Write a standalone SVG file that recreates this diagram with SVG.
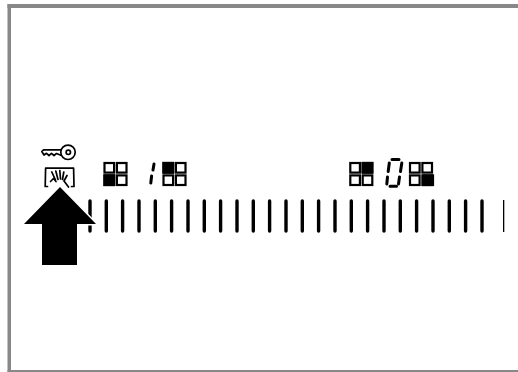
<svg xmlns="http://www.w3.org/2000/svg" width="518" height="372" viewBox="0 0 518 372">
<style>
.frame{fill:#888}
.bar{stroke:#000;stroke-width:3.4;stroke-linecap:round;fill:none}
.cell{fill:#fff;stroke:#000;stroke-width:2.2}
.on{fill:#000;stroke:#000;stroke-width:2.2}
.seg{fill:none;stroke:#000;stroke-width:3;stroke-linecap:round}
.ln{fill:none;stroke:#000;stroke-width:1.7;stroke-linecap:round;stroke-linejoin:round}
</style>
<defs>
<g id="grid">
<rect class="cell" x="1" y="1" width="9.600" height="9.600"/><rect class="cell" x="13.400" y="1" width="9.600" height="9.600"/>
<rect class="cell" x="1" y="13.400" width="9.600" height="9.600"/><rect class="cell" x="13.400" y="13.400" width="9.600" height="9.600"/>
</g>
</defs>
<rect width="518" height="372" fill="#fff"/>
<g id="frame">
<rect class="frame" x="7.500" y="4" width="510.500" height="4"/>
<rect class="frame" x="7.500" y="4" width="3.500" height="368"/>
<rect class="frame" x="7.500" y="370" width="510.500" height="2"/>
</g>
<g id="scale">
<path class="bar" d="M90 201V231M106.300 201V231M122.600 201V231M139 201V231M155.300 201V231M171.600 201V231M188 201V231M204.300 201V231M220.600 201V231M237 201V231M253.300 201V231M269.600 201V231M286 201V231M302.300 201V231M318.600 201V231M335 201V231M351.300 201V231M367.600 201V231M384 201V231M400.300 201V231M416.600 201V231M433 201V231M449.300 201V231M465.600 201V231M482 201V231"/>
<rect x="503" y="200" width="1.300" height="32"/>
</g>
<g id="key">
<circle class="ln" cx="68" cy="152.300" r="7.200" stroke-width="2"/>
<circle class="ln" cx="68.300" cy="152.300" r="2.200"/>
<path class="ln" d="M61.200 149.800H43.500L41.800 151.500L44 155L46.500 153.300L49 155.500L51.500 153.300L54 155.500L56.500 153.500L61.500 155.500"/>
</g>
<g id="hand">
<path class="ln" d="M47.500 186.500H45.200L45.600 168.200H73.600L74 186.500H71.500"/>
<path class="ln" d="M50.500 181.500L53.500 178.500L56 181.500M55.500 180L51.800 172M58 179.500L55.800 171M60.500 179L59.800 170.500M62.500 179.500L63.800 172M64 181L67 175.500M64 181L68.500 187"/>
</g>
<g id="grid1">
<use href="#grid" x="103.500" y="162"/>
<rect class="on" x="104.500" y="175.400" width="9.600" height="9.600"/>
</g>
<g id="digit1">
<path class="seg" d="M154 164L153 170M151.600 176L150.800 183"/>
</g>
<g id="grid2">
<use href="#grid" x="162.500" y="162"/>
<rect class="on" x="163.500" y="163" width="9.600" height="9.600"/>
</g>
<g id="grid3">
<use href="#grid" x="349.300" y="162"/>
<rect class="on" x="362.700" y="163" width="9.600" height="9.600"/>
</g>
<g id="digit0">
<path class="seg" d="M392 159.500H399M401.800 163L400.500 171.500M389.300 163L388.200 171.500M387.500 177L386.800 184M399.500 177L398.500 184M390 186.300H396.500"/>
</g>
<g id="grid4">
<use href="#grid" x="409" y="162"/>
<rect class="on" x="423.400" y="175.400" width="9.600" height="9.600"/>
</g>
<g id="arrow">
<polygon points="60,187 96,224 77,224 77,265 42,265 42,224 24,224" fill="#000" stroke="#fff" stroke-width="3" paint-order="stroke"/>
</g>
</svg>
